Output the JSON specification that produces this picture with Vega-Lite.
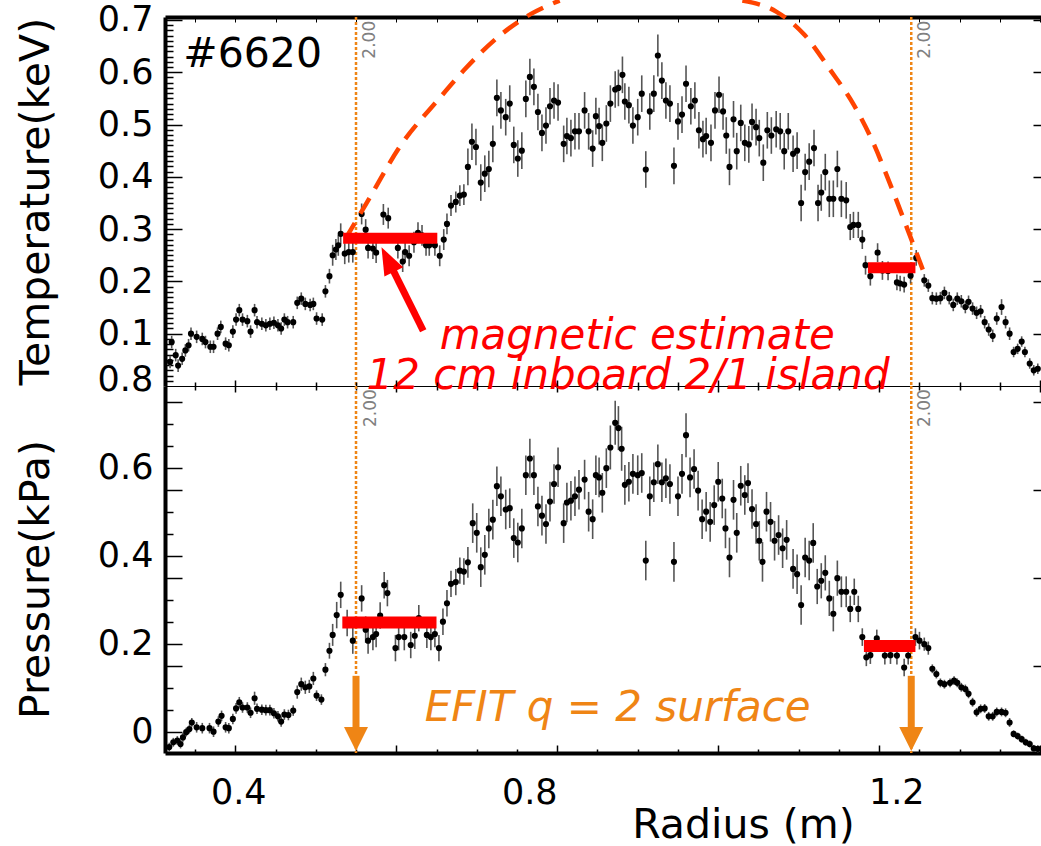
{
"$schema": "https://vega.github.io/schema/vega-lite/v6.json",
"autosize": {"type": "pad"},
"padding": {"left": 15, "top": -9, "right": 0, "bottom": 0},
"background": "white",
"spacing": 0,
"bounds": "flush",
"config": {
  "view": {"stroke": null},
  "font": "DejaVu Sans",
  "axis": {"labelFont": "DejaVu Sans", "titleFont": "DejaVu Sans", "labelColor": "black", "titleColor": "black", "domainColor": "black", "tickColor": "black", "grid": false, "titleFontWeight": "normal"}
},
"datasets": {
  "T": [
{"x":0.321,"y":0.084,"e":0.012},{"x":0.319,"y":0.046,"e":0.012},{"x":0.326,"y":0.059,"e":0.012},{"x":0.329,"y":0.039,"e":0.012},{"x":0.334,"y":0.052,"e":0.012},{"x":0.338,"y":0.068,"e":0.012},{"x":0.342,"y":0.078,"e":0.012},{"x":0.345,"y":0.100,"e":0.012},{"x":0.352,"y":0.094,"e":0.012},{"x":0.359,"y":0.090,"e":0.012},{"x":0.363,"y":0.084,"e":0.012},{"x":0.369,"y":0.075,"e":0.012},{"x":0.373,"y":0.075,"e":0.012},{"x":0.378,"y":0.100,"e":0.012},{"x":0.382,"y":0.113,"e":0.012},{"x":0.388,"y":0.081,"e":0.012},{"x":0.392,"y":0.078,"e":0.012},{"x":0.397,"y":0.104,"e":0.012},{"x":0.401,"y":0.127,"e":0.012},{"x":0.405,"y":0.145,"e":0.012},{"x":0.409,"y":0.127,"e":0.012},{"x":0.415,"y":0.124,"e":0.012},{"x":0.419,"y":0.104,"e":0.012},{"x":0.424,"y":0.145,"e":0.012},{"x":0.427,"y":0.122,"e":0.012},{"x":0.433,"y":0.119,"e":0.012},{"x":0.438,"y":0.116,"e":0.012},{"x":0.443,"y":0.119,"e":0.012},{"x":0.448,"y":0.121,"e":0.012},{"x":0.453,"y":0.116,"e":0.012},{"x":0.457,"y":0.110,"e":0.012},{"x":0.461,"y":0.127,"e":0.012},{"x":0.465,"y":0.122,"e":0.012},{"x":0.472,"y":0.122,"e":0.012},{"x":0.477,"y":0.159,"e":0.012},{"x":0.482,"y":0.167,"e":0.012},{"x":0.487,"y":0.157,"e":0.012},{"x":0.493,"y":0.155,"e":0.012},{"x":0.497,"y":0.157,"e":0.012},{"x":0.501,"y":0.129,"e":0.012},{"x":0.508,"y":0.127,"e":0.012},{"x":0.512,"y":0.181,"e":0.012},{"x":0.517,"y":0.210,"e":0.014},
{"x":0.521,"y":0.250,"e":0.02},{"x":0.525,"y":0.261,"e":0.02},{"x":0.528,"y":0.269,"e":0.02},{"x":0.531,"y":0.291,"e":0.02},{"x":0.536,"y":0.253,"e":0.02},{"x":0.541,"y":0.256,"e":0.02},{"x":0.546,"y":0.256,"e":0.02},{"x":0.557,"y":0.329,"e":0.02},{"x":0.562,"y":0.299,"e":0.02},{"x":0.565,"y":0.264,"e":0.02},{"x":0.571,"y":0.263,"e":0.02},{"x":0.575,"y":0.255,"e":0.02},{"x":0.584,"y":0.328,"e":0.02},{"x":0.590,"y":0.321,"e":0.02},{"x":0.602,"y":0.264,"e":0.02},{"x":0.608,"y":0.238,"e":0.02},{"x":0.611,"y":0.256,"e":0.02},{"x":0.616,"y":0.249,"e":0.02},{"x":0.622,"y":0.275,"e":0.02},{"x":0.627,"y":0.293,"e":0.02},{"x":0.632,"y":0.288,"e":0.02},{"x":0.637,"y":0.269,"e":0.02},{"x":0.641,"y":0.269,"e":0.02},{"x":0.648,"y":0.269,"e":0.02},{"x":0.654,"y":0.249,"e":0.02},{"x":0.659,"y":0.280,"e":0.02},{"x":0.663,"y":0.310,"e":0.02},{"x":0.668,"y":0.345,"e":0.02},{"x":0.674,"y":0.352,"e":0.02},{"x":0.679,"y":0.364,"e":0.02},{"x":0.684,"y":0.366,"e":0.02},
{"x":0.689,"y":0.419,"e":0.035},{"x":0.694,"y":0.467,"e":0.035},{"x":0.699,"y":0.457,"e":0.035},{"x":0.705,"y":0.389,"e":0.035},{"x":0.710,"y":0.406,"e":0.035},{"x":0.715,"y":0.415,"e":0.035},{"x":0.720,"y":0.463,"e":0.035},{"x":0.725,"y":0.551,"e":0.035},{"x":0.730,"y":0.527,"e":0.035},{"x":0.736,"y":0.514,"e":0.035},{"x":0.741,"y":0.540,"e":0.035},{"x":0.746,"y":0.461,"e":0.035},{"x":0.751,"y":0.435,"e":0.035},{"x":0.756,"y":0.450,"e":0.035},{"x":0.761,"y":0.549,"e":0.035},{"x":0.766,"y":0.591,"e":0.035},{"x":0.771,"y":0.572,"e":0.035},{"x":0.776,"y":0.524,"e":0.035},{"x":0.781,"y":0.484,"e":0.035},{"x":0.786,"y":0.498,"e":0.035},{"x":0.791,"y":0.535,"e":0.035},{"x":0.796,"y":0.546,"e":0.035},{"x":0.801,"y":0.542,"e":0.035},{"x":0.808,"y":0.463,"e":0.035},{"x":0.812,"y":0.478,"e":0.035},{"x":0.817,"y":0.474,"e":0.035},{"x":0.822,"y":0.487,"e":0.035},{"x":0.827,"y":0.487,"e":0.035},{"x":0.834,"y":0.527,"e":0.035},{"x":0.839,"y":0.487,"e":0.035},{"x":0.844,"y":0.454,"e":0.035},{"x":0.848,"y":0.516,"e":0.035},{"x":0.852,"y":0.497,"e":0.035},{"x":0.856,"y":0.465,"e":0.035},{"x":0.861,"y":0.502,"e":0.035},{"x":0.866,"y":0.540,"e":0.035},{"x":0.872,"y":0.567,"e":0.035},{"x":0.876,"y":0.570,"e":0.035},{"x":0.881,"y":0.595,"e":0.035},{"x":0.884,"y":0.544,"e":0.035},{"x":0.889,"y":0.537,"e":0.035},{"x":0.894,"y":0.498,"e":0.035},{"x":0.900,"y":0.514,"e":0.035},{"x":0.905,"y":0.559,"e":0.035},{"x":0.910,"y":0.414,"e":0.035},{"x":0.915,"y":0.525,"e":0.035},{"x":0.920,"y":0.559,"e":0.035},{"x":0.925,"y":0.632,"e":0.04},{"x":0.930,"y":0.584,"e":0.035},{"x":0.935,"y":0.546,"e":0.035},{"x":0.940,"y":0.540,"e":0.035},{"x":0.945,"y":0.421,"e":0.035},{"x":0.950,"y":0.506,"e":0.035},{"x":0.955,"y":0.519,"e":0.035},{"x":0.960,"y":0.578,"e":0.035},{"x":0.966,"y":0.535,"e":0.035},{"x":0.971,"y":0.546,"e":0.035},{"x":0.976,"y":0.489,"e":0.035},{"x":0.981,"y":0.472,"e":0.035},{"x":0.985,"y":0.478,"e":0.035},{"x":0.991,"y":0.465,"e":0.035},{"x":0.996,"y":0.527,"e":0.035},{"x":1.001,"y":0.557,"e":0.035},{"x":1.006,"y":0.525,"e":0.035},{"x":1.010,"y":0.479,"e":0.035},{"x":1.014,"y":0.419,"e":0.035},{"x":1.019,"y":0.510,"e":0.035},{"x":1.023,"y":0.449,"e":0.035},{"x":1.028,"y":0.503,"e":0.035},{"x":1.033,"y":0.465,"e":0.035},{"x":1.038,"y":0.462,"e":0.035},{"x":1.042,"y":0.505,"e":0.035},{"x":1.047,"y":0.495,"e":0.035},{"x":1.051,"y":0.474,"e":0.035},{"x":1.056,"y":0.427,"e":0.035},{"x":1.061,"y":0.489,"e":0.035},{"x":1.066,"y":0.479,"e":0.035},{"x":1.072,"y":0.491,"e":0.035},{"x":1.077,"y":0.487,"e":0.035},{"x":1.082,"y":0.449,"e":0.035},{"x":1.087,"y":0.487,"e":0.035},{"x":1.093,"y":0.444,"e":0.035},{"x":1.098,"y":0.450,"e":0.035},{"x":1.103,"y":0.350,"e":0.035},{"x":1.108,"y":0.409,"e":0.035},{"x":1.113,"y":0.429,"e":0.035},{"x":1.119,"y":0.455,"e":0.035},{"x":1.124,"y":0.350,"e":0.035},{"x":1.128,"y":0.370,"e":0.035},{"x":1.133,"y":0.409,"e":0.035},{"x":1.138,"y":0.358,"e":0.035},{"x":1.143,"y":0.358,"e":0.035},{"x":1.148,"y":0.415,"e":0.035},{"x":1.153,"y":0.358,"e":0.035},{"x":1.159,"y":0.355,"e":0.035},{"x":1.164,"y":0.304,"e":0.025},{"x":1.168,"y":0.308,"e":0.025},{"x":1.174,"y":0.308,"e":0.025},
{"x":1.179,"y":0.280,"e":0.018},{"x":1.183,"y":0.231,"e":0.018},{"x":1.189,"y":0.210,"e":0.018},{"x":1.198,"y":0.255,"e":0.018},{"x":1.204,"y":0.221,"e":0.018},{"x":1.211,"y":0.220,"e":0.018},{"x":1.222,"y":0.198,"e":0.015},{"x":1.226,"y":0.196,"e":0.015},{"x":1.231,"y":0.194,"e":0.015},{"x":1.239,"y":0.211,"e":0.015},{"x":1.246,"y":0.245,"e":0.015},{"x":1.256,"y":0.202,"e":0.012},{"x":1.261,"y":0.192,"e":0.012},
{"x":1.266,"y":0.168,"e":0.012},{"x":1.271,"y":0.167,"e":0.012},{"x":1.276,"y":0.168,"e":0.012},{"x":1.281,"y":0.178,"e":0.012},{"x":1.287,"y":0.168,"e":0.012},{"x":1.292,"y":0.155,"e":0.012},{"x":1.297,"y":0.167,"e":0.012},{"x":1.302,"y":0.162,"e":0.012},{"x":1.307,"y":0.151,"e":0.012},{"x":1.311,"y":0.161,"e":0.012},{"x":1.316,"y":0.148,"e":0.012},{"x":1.321,"y":0.140,"e":0.012},{"x":1.326,"y":0.143,"e":0.012},{"x":1.331,"y":0.122,"e":0.012},{"x":1.336,"y":0.108,"e":0.012},{"x":1.341,"y":0.096,"e":0.012},{"x":1.346,"y":0.129,"e":0.012},{"x":1.352,"y":0.151,"e":0.015},{"x":1.357,"y":0.122,"e":0.012},{"x":1.362,"y":0.100,"e":0.012},{"x":1.367,"y":0.065,"e":0.01},{"x":1.372,"y":0.071,"e":0.01},{"x":1.377,"y":0.085,"e":0.01},{"x":1.381,"y":0.065,"e":0.01},{"x":1.387,"y":0.043,"e":0.01},{"x":1.392,"y":0.030,"e":0.01},{"x":1.397,"y":0.033,"e":0.01}
  ],
  "P": [
{"x":0.318,"y":-0.035,"e":0.01},{"x":0.323,"y":-0.024,"e":0.01},{"x":0.328,"y":-0.020,"e":0.01},{"x":0.332,"y":-0.028,"e":0.01},{"x":0.335,"y":-0.013,"e":0.01},{"x":0.339,"y":-0.001,"e":0.01},{"x":0.343,"y":0.006,"e":0.01},{"x":0.346,"y":0.021,"e":0.01},{"x":0.352,"y":0.010,"e":0.012},{"x":0.359,"y":0.008,"e":0.012},{"x":0.368,"y":0.008,"e":0.012},{"x":0.373,"y":0.000,"e":0.012},{"x":0.379,"y":0.023,"e":0.012},{"x":0.383,"y":0.036,"e":0.012},{"x":0.388,"y":0.010,"e":0.012},{"x":0.392,"y":0.008,"e":0.012},{"x":0.397,"y":0.029,"e":0.012},{"x":0.401,"y":0.053,"e":0.012},{"x":0.405,"y":0.067,"e":0.012},{"x":0.409,"y":0.055,"e":0.012},{"x":0.415,"y":0.055,"e":0.012},{"x":0.419,"y":0.043,"e":0.012},{"x":0.424,"y":0.076,"e":0.015},{"x":0.427,"y":0.052,"e":0.012},{"x":0.433,"y":0.050,"e":0.012},{"x":0.438,"y":0.049,"e":0.012},{"x":0.443,"y":0.049,"e":0.012},{"x":0.448,"y":0.042,"e":0.012},{"x":0.453,"y":0.035,"e":0.012},{"x":0.457,"y":0.023,"e":0.012},{"x":0.461,"y":0.039,"e":0.012},{"x":0.466,"y":0.038,"e":0.012},{"x":0.472,"y":0.048,"e":0.012},{"x":0.477,"y":0.090,"e":0.015},{"x":0.482,"y":0.108,"e":0.015},{"x":0.487,"y":0.101,"e":0.015},{"x":0.492,"y":0.103,"e":0.015},{"x":0.497,"y":0.121,"e":0.015},{"x":0.501,"y":0.082,"e":0.012},{"x":0.507,"y":0.073,"e":0.012},{"x":0.512,"y":0.141,"e":0.015},{"x":0.517,"y":0.184,"e":0.018},
{"x":0.521,"y":0.220,"e":0.025},{"x":0.526,"y":0.265,"e":0.03},{"x":0.531,"y":0.311,"e":0.03},{"x":0.539,"y":0.247,"e":0.03},{"x":0.546,"y":0.207,"e":0.03},{"x":0.557,"y":0.303,"e":0.03},{"x":0.562,"y":0.232,"e":0.03},{"x":0.565,"y":0.207,"e":0.03},{"x":0.571,"y":0.215,"e":0.03},{"x":0.575,"y":0.222,"e":0.03},{"x":0.580,"y":0.264,"e":0.03},{"x":0.585,"y":0.333,"e":0.03},{"x":0.589,"y":0.315,"e":0.03},{"x":0.599,"y":0.190,"e":0.03},{"x":0.603,"y":0.215,"e":0.03},{"x":0.610,"y":0.215,"e":0.03},{"x":0.618,"y":0.197,"e":0.03},{"x":0.623,"y":0.218,"e":0.03},{"x":0.628,"y":0.258,"e":0.03},{"x":0.638,"y":0.220,"e":0.03},{"x":0.643,"y":0.215,"e":0.03},{"x":0.648,"y":0.222,"e":0.03},{"x":0.653,"y":0.190,"e":0.03},{"x":0.658,"y":0.250,"e":0.03},{"x":0.663,"y":0.292,"e":0.03},{"x":0.668,"y":0.336,"e":0.03},{"x":0.674,"y":0.340,"e":0.03},{"x":0.679,"y":0.366,"e":0.03},{"x":0.684,"y":0.364,"e":0.03},{"x":0.689,"y":0.385,"e":0.035},
{"x":0.695,"y":0.474,"e":0.045},{"x":0.700,"y":0.452,"e":0.045},{"x":0.705,"y":0.374,"e":0.045},{"x":0.710,"y":0.402,"e":0.045},{"x":0.715,"y":0.462,"e":0.045},{"x":0.720,"y":0.482,"e":0.045},{"x":0.725,"y":0.558,"e":0.045},{"x":0.730,"y":0.535,"e":0.045},{"x":0.736,"y":0.505,"e":0.045},{"x":0.741,"y":0.508,"e":0.045},{"x":0.746,"y":0.440,"e":0.045},{"x":0.751,"y":0.430,"e":0.045},{"x":0.756,"y":0.462,"e":0.045},{"x":0.761,"y":0.583,"e":0.045},{"x":0.766,"y":0.621,"e":0.045},{"x":0.771,"y":0.583,"e":0.045},{"x":0.776,"y":0.512,"e":0.045},{"x":0.781,"y":0.491,"e":0.045},{"x":0.786,"y":0.472,"e":0.045},{"x":0.791,"y":0.523,"e":0.045},{"x":0.796,"y":0.563,"e":0.045},{"x":0.801,"y":0.601,"e":0.045},{"x":0.808,"y":0.474,"e":0.045},{"x":0.812,"y":0.521,"e":0.045},{"x":0.817,"y":0.525,"e":0.045},{"x":0.822,"y":0.535,"e":0.045},{"x":0.827,"y":0.550,"e":0.045},{"x":0.834,"y":0.573,"e":0.045},{"x":0.839,"y":0.500,"e":0.045},{"x":0.844,"y":0.483,"e":0.045},{"x":0.848,"y":0.583,"e":0.045},{"x":0.852,"y":0.578,"e":0.045},{"x":0.856,"y":0.543,"e":0.045},{"x":0.861,"y":0.599,"e":0.045},{"x":0.866,"y":0.646,"e":0.05},{"x":0.872,"y":0.702,"e":0.05},{"x":0.876,"y":0.690,"e":0.05},{"x":0.880,"y":0.643,"e":0.05},{"x":0.884,"y":0.561,"e":0.045},{"x":0.889,"y":0.568,"e":0.045},{"x":0.894,"y":0.586,"e":0.045},{"x":0.900,"y":0.583,"e":0.045},{"x":0.905,"y":0.588,"e":0.045},{"x":0.910,"y":0.389,"e":0.045},{"x":0.915,"y":0.535,"e":0.045},{"x":0.920,"y":0.567,"e":0.045},{"x":0.925,"y":0.608,"e":0.045},{"x":0.930,"y":0.567,"e":0.045},{"x":0.935,"y":0.576,"e":0.045},{"x":0.940,"y":0.563,"e":0.045},{"x":0.945,"y":0.386,"e":0.045},{"x":0.950,"y":0.535,"e":0.045},{"x":0.955,"y":0.586,"e":0.045},{"x":0.960,"y":0.674,"e":0.05},{"x":0.965,"y":0.578,"e":0.045},{"x":0.970,"y":0.597,"e":0.045},{"x":0.975,"y":0.548,"e":0.045},{"x":0.980,"y":0.483,"e":0.045},{"x":0.985,"y":0.500,"e":0.045},{"x":0.990,"y":0.477,"e":0.045},{"x":0.995,"y":0.515,"e":0.045},{"x":1.000,"y":0.568,"e":0.045},{"x":1.005,"y":0.530,"e":0.045},{"x":1.009,"y":0.462,"e":0.045},{"x":1.014,"y":0.396,"e":0.045},{"x":1.019,"y":0.527,"e":0.045},{"x":1.023,"y":0.452,"e":0.045},{"x":1.028,"y":0.559,"e":0.045},{"x":1.033,"y":0.538,"e":0.045},{"x":1.037,"y":0.565,"e":0.045},{"x":1.042,"y":0.506,"e":0.045},{"x":1.047,"y":0.472,"e":0.045},{"x":1.051,"y":0.434,"e":0.045},{"x":1.055,"y":0.386,"e":0.045},{"x":1.060,"y":0.500,"e":0.045},{"x":1.065,"y":0.477,"e":0.045},{"x":1.070,"y":0.434,"e":0.045},{"x":1.075,"y":0.447,"e":0.045},{"x":1.080,"y":0.417,"e":0.045},{"x":1.085,"y":0.436,"e":0.045},{"x":1.093,"y":0.370,"e":0.045},{"x":1.098,"y":0.358,"e":0.045},{"x":1.103,"y":0.288,"e":0.045},{"x":1.108,"y":0.396,"e":0.045},{"x":1.113,"y":0.389,"e":0.045},{"x":1.118,"y":0.429,"e":0.045},{"x":1.123,"y":0.330,"e":0.04},{"x":1.128,"y":0.343,"e":0.04},{"x":1.133,"y":0.361,"e":0.04},{"x":1.138,"y":0.303,"e":0.04},{"x":1.143,"y":0.268,"e":0.04},{"x":1.148,"y":0.349,"e":0.04},{"x":1.153,"y":0.318,"e":0.035},{"x":1.159,"y":0.318,"e":0.035},{"x":1.164,"y":0.279,"e":0.03},{"x":1.169,"y":0.318,"e":0.03},{"x":1.174,"y":0.279,"e":0.03},
{"x":1.179,"y":0.215,"e":0.02},{"x":1.184,"y":0.169,"e":0.02},{"x":1.189,"y":0.174,"e":0.02},{"x":1.197,"y":0.212,"e":0.02},{"x":1.207,"y":0.173,"e":0.02},{"x":1.214,"y":0.174,"e":0.02},{"x":1.222,"y":0.173,"e":0.02},{"x":1.231,"y":0.146,"e":0.02},{"x":1.236,"y":0.173,"e":0.02},{"x":1.245,"y":0.215,"e":0.02},{"x":1.250,"y":0.207,"e":0.02},{"x":1.256,"y":0.199,"e":0.015},{"x":1.261,"y":0.190,"e":0.015},
{"x":1.266,"y":0.143,"e":0.01},{"x":1.271,"y":0.131,"e":0.01},{"x":1.276,"y":0.111,"e":0.01},{"x":1.281,"y":0.108,"e":0.01},{"x":1.288,"y":0.111,"e":0.01},{"x":1.293,"y":0.116,"e":0.01},{"x":1.297,"y":0.111,"e":0.01},{"x":1.302,"y":0.101,"e":0.01},{"x":1.307,"y":0.097,"e":0.01},{"x":1.311,"y":0.086,"e":0.01},{"x":1.316,"y":0.067,"e":0.01},{"x":1.321,"y":0.044,"e":0.01},{"x":1.326,"y":0.052,"e":0.01},{"x":1.331,"y":0.053,"e":0.01},{"x":1.336,"y":0.035,"e":0.01},{"x":1.341,"y":0.035,"e":0.01},{"x":1.346,"y":0.045,"e":0.01},{"x":1.352,"y":0.045,"e":0.01},{"x":1.357,"y":0.043,"e":0.01},{"x":1.362,"y":0.021,"e":0.01},{"x":1.367,"y":-0.005,"e":0.008},{"x":1.372,"y":-0.010,"e":0.008},{"x":1.377,"y":-0.017,"e":0.008},{"x":1.382,"y":-0.024,"e":0.008},{"x":1.387,"y":-0.028,"e":0.008},{"x":1.392,"y":-0.038,"e":0.008},{"x":1.397,"y":-0.039,"e":0.008}
  ],
  "qlines": [{"x": 0.55}, {"x": 1.2398}]
},
"vconcat": [
{
  "width": 876,
  "height": 369,
  "resolve": {"axis": {"x": "independent", "y": "independent"}},
  "layer": [
    {
      "data": {"name": "qlines"},
      "mark": {"type": "rule", "color": "#ef8515", "strokeWidth": 2.5, "strokeDash": [3, 2]},
      "encoding": {
        "x": {"field": "x", "type": "quantitative", "scale": {"domain": [0.3127, 1.401], "nice": false, "zero": false},
          "axis": {"orient": "top", "values": [0.35,0.4,0.45,0.5,0.55,0.6,0.65,0.7,0.75,0.8,0.85,0.9,0.95,1,1.05,1.1,1.15,1.2,1.25,1.3,1.35,1.4], "labels": false, "domainWidth": 4, "tickSize": -5, "tickWidth": 1, "title": null}}
      }
    },
    {
      "data": {"name": "T"},
      "mark": {"type": "errorbar", "ticks": false, "color": "#555555", "thickness": 1.6},
      "encoding": {
        "x": {"field": "x", "type": "quantitative", "scale": {"domain": [0.3127, 1.401], "nice": false, "zero": false}, "axis": null},
        "y": {"field": "y", "type": "quantitative", "scale": {"domain": [0, 0.7056], "nice": false, "zero": false}, "axis": null},
        "yError": {"field": "e"}
      }
    },
    {
      "data": {"name": "T"},
      "mark": {"type": "point", "filled": true, "shape": "circle", "size": 38, "color": "black", "opacity": 1},
      "encoding": {
        "x": {"field": "x", "type": "quantitative", "scale": {"domain": [0.3127, 1.401], "nice": false, "zero": false},
          "axis": {"orient": "bottom", "values": [0.35,0.4,0.45,0.5,0.55,0.6,0.65,0.7,0.75,0.8,0.85,0.9,0.95,1,1.05,1.1,1.15,1.2,1.25,1.3,1.35,1.4], "labels": false, "domainWidth": 1, "tickSize": {"condition": {"test": "indexof([0.4,0.6,0.8,1,1.2,1.4], datum.value) >= 0", "value": 6}, "value": 4}, "tickWidth": 1.5, "title": null}},
        "y": {"field": "y", "type": "quantitative", "scale": {"domain": [0, 0.7056], "nice": false, "zero": false},
          "axis": {"orient": "left", "values": [0.01,0.02,0.03,0.04,0.05,0.06,0.07,0.08,0.09,0.1,0.11,0.12,0.13,0.14,0.15,0.16,0.17,0.18,0.19,0.2,0.21,0.22,0.23,0.24,0.25,0.26,0.27,0.28,0.29,0.3,0.31,0.32,0.33,0.34,0.35,0.36,0.37,0.38,0.39,0.4,0.41,0.42,0.43,0.44,0.45,0.46,0.47,0.48,0.49,0.5,0.51,0.52,0.53,0.54,0.55,0.56,0.57,0.58,0.59,0.6,0.61,0.62,0.63,0.64,0.65,0.66,0.67,0.68,0.69,0.7],
            "tickSize": {"condition": {"test": "indexof([0.1,0.2,0.3,0.4,0.5,0.6,0.7], datum.value) >= 0", "value": -17}, "value": -8},
            "tickWidth": 1.5, "domainWidth": 4,
            "labelExpr": "indexof([0.1,0.2,0.3,0.4,0.5,0.6,0.7], datum.value) >= 0 ? format(datum.value, '.1f') : ''",
            "labelFontSize": 35, "labelPadding": 29, "labelOverlap": false, "labelFlush": false, "labelBound": false,
            "title": "Temperature(keV)", "titleFontSize": 41, "titleX": -117, "titleY": 184, "titleAngle": 270, "titleBaseline": "alphabetic", "titleAlign": "center"}}
      }
    },
    {
      "data": {"values": [
        {"part": "a", "x": 0.537, "y": 0.282}, {"part": "a", "x": 0.564, "y": 0.352}, {"part": "a", "x": 0.605, "y": 0.459}, {"part": "a", "x": 0.653, "y": 0.549}, {"part": "a", "x": 0.686, "y": 0.607}, {"part": "a", "x": 0.727, "y": 0.668}, {"part": "a", "x": 0.768, "y": 0.712}, {"part": "a", "x": 0.803, "y": 0.737},
        {"part": "b", "x": 1.030, "y": 0.737}, {"part": "b", "x": 1.072, "y": 0.716}, {"part": "b", "x": 1.108, "y": 0.670}, {"part": "b", "x": 1.138, "y": 0.607}, {"part": "b", "x": 1.169, "y": 0.536}, {"part": "b", "x": 1.194, "y": 0.460}, {"part": "b", "x": 1.211, "y": 0.396}, {"part": "b", "x": 1.241, "y": 0.276}, {"part": "b", "x": 1.255, "y": 0.219}
      ]},
      "mark": {"type": "line", "color": "#ff4400", "strokeWidth": 4.5, "strokeDash": [18, 11], "interpolate": "monotone"},
      "encoding": {
        "x": {"field": "x", "type": "quantitative", "scale": {"domain": [0.3127, 1.401], "nice": false, "zero": false}, "axis": null},
        "y": {"field": "y", "type": "quantitative", "scale": {"domain": [0, 0.7056], "nice": false, "zero": false},
          "axis": {"orient": "right", "values": [0.1,0.2,0.3,0.4,0.5,0.6,0.7], "labels": false, "domainDash": [2, 2], "domainWidth": 1, "tickSize": -8, "tickWidth": 1.5, "title": null}},
        "detail": {"field": "part"}
      }
    },
    {
      "data": {"values": [{"x": 0.534, "x2": 0.651, "y": 0.2826}, {"x": 1.186, "x2": 1.245, "y": 0.226}]},
      "mark": {"type": "rule", "color": "#ff0000", "strokeWidth": 11},
      "encoding": {
        "x": {"field": "x", "type": "quantitative", "scale": {"domain": [0.3127, 1.401], "nice": false, "zero": false}, "axis": null},
        "x2": {"field": "x2"},
        "y": {"field": "y", "type": "quantitative", "scale": {"domain": [0, 0.7056], "nice": false, "zero": false}, "axis": null}
      }
    },
    {
      "data": {"values": [{"x": 0.6335, "y": 0.1057, "x2": 0.592, "y2": 0.234}]},
      "mark": {"type": "rule", "color": "#ff0000", "strokeWidth": 7},
      "encoding": {
        "x": {"field": "x", "type": "quantitative", "scale": {"domain": [0.3127, 1.401], "nice": false, "zero": false}, "axis": null},
        "x2": {"field": "x2"},
        "y": {"field": "y", "type": "quantitative", "scale": {"domain": [0, 0.7056], "nice": false, "zero": false}, "axis": null},
        "y2": {"field": "y2"}
      }
    },
    {
      "data": {"values": [{"x": 0.590, "y": 0.2396}]},
      "mark": {"type": "point", "filled": true, "shape": "M0,-1.2L0.84,1L-0.84,1Z", "size": 625, "angle": 333.4, "color": "#ff0000", "opacity": 1},
      "encoding": {
        "x": {"field": "x", "type": "quantitative", "scale": {"domain": [0.3127, 1.401], "nice": false, "zero": false}, "axis": null},
        "y": {"field": "y", "type": "quantitative", "scale": {"domain": [0, 0.7056], "nice": false, "zero": false}, "axis": null}
      }
    },
    {
      "data": {"values": [{"x": 0.3354, "y": 0.61, "label": "#6620"}]},
      "mark": {"type": "text", "fontSize": 41, "align": "left", "baseline": "alphabetic", "color": "black", "font": "DejaVu Sans"},
      "encoding": {
        "x": {"field": "x", "type": "quantitative", "scale": {"domain": [0.3127, 1.401], "nice": false, "zero": false}, "axis": null},
        "y": {"field": "y", "type": "quantitative", "scale": {"domain": [0, 0.7056], "nice": false, "zero": false}, "axis": null},
        "text": {"field": "label"}
      }
    },
    {
      "data": {"values": [{"x": 0.8994, "y": 0.0713, "label": "magnetic estimate"}, {"x": 0.888, "y": -0.005, "label": "12 cm inboard 2/1 island"}]},
      "mark": {"type": "text", "fontSize": 42, "fontStyle": "italic", "align": "center", "baseline": "alphabetic", "color": "#ff0000", "font": "DejaVu Sans"},
      "encoding": {
        "x": {"field": "x", "type": "quantitative", "scale": {"domain": [0.3127, 1.401], "nice": false, "zero": false}, "axis": null},
        "y": {"field": "y", "type": "quantitative", "scale": {"domain": [0, 0.7056], "nice": false, "zero": false}, "axis": null},
        "text": {"field": "label"}
      }
    },
    {
      "data": {"values": [{"x": 0.574, "y": 0.626, "label": "2.00"}, {"x": 1.2634, "y": 0.626, "label": "2.00"}]},
      "mark": {"type": "text", "fontSize": 17, "angle": 270, "align": "left", "baseline": "alphabetic", "color": "#808080", "font": "DejaVu Sans"},
      "encoding": {
        "x": {"field": "x", "type": "quantitative", "scale": {"domain": [0.3127, 1.401], "nice": false, "zero": false}, "axis": null},
        "y": {"field": "y", "type": "quantitative", "scale": {"domain": [0, 0.7056], "nice": false, "zero": false}, "axis": null},
        "text": {"field": "label"}
      }
    }
  ]
},
{
  "width": 876,
  "height": 367,
  "resolve": {"axis": {"x": "independent", "y": "independent"}},
  "layer": [
    {
      "data": {"name": "qlines"},
      "mark": {"type": "rule", "color": "#ef8515", "strokeWidth": 2.5, "strokeDash": [3, 2]},
      "encoding": {
        "x": {"field": "x", "type": "quantitative", "scale": {"domain": [0.3127, 1.401], "nice": false, "zero": false},
          "axis": {"orient": "top", "values": [0.35,0.4,0.45,0.5,0.55,0.6,0.65,0.7,0.75,0.8,0.85,0.9,0.95,1,1.05,1.1,1.15,1.2,1.25,1.3,1.35,1.4], "labels": false, "domain": false, "tickSize": {"condition": {"test": "indexof([0.4,0.6,0.8,1,1.2,1.4], datum.value) >= 0", "value": 6}, "value": 4}, "tickWidth": 1.5, "title": null}}
      }
    },
    {
      "data": {"name": "P"},
      "mark": {"type": "errorbar", "ticks": false, "color": "#555555", "thickness": 1.6},
      "encoding": {
        "x": {"field": "x", "type": "quantitative", "scale": {"domain": [0.3127, 1.401], "nice": false, "zero": false}, "axis": null},
        "y": {"field": "y", "type": "quantitative", "scale": {"domain": [-0.0484, 0.7857], "nice": false, "zero": false}, "axis": null},
        "yError": {"field": "e"}
      }
    },
    {
      "data": {"name": "P"},
      "mark": {"type": "point", "filled": true, "shape": "circle", "size": 38, "color": "black", "opacity": 1},
      "encoding": {
        "x": {"field": "x", "type": "quantitative", "scale": {"domain": [0.3127, 1.401], "nice": false, "zero": false},
          "axis": {"orient": "bottom", "values": [0.35,0.4,0.45,0.5,0.55,0.6,0.65,0.7,0.75,0.8,0.85,0.9,0.95,1,1.05,1.1,1.15,1.2,1.25,1.3,1.35,1.4],
            "tickSize": {"condition": {"test": "indexof([0.4,0.6,0.8,1,1.2,1.4], datum.value) >= 0", "value": -8}, "value": -4},
            "tickWidth": 1.5, "domainWidth": 4,
            "labelExpr": "indexof([0.4,0.8,1.2], datum.value) >= 0 ? format(datum.value, '.1f') : ''",
            "labelOffset": {"condition": [{"test": "datum.value == 0.8", "value": -28}, {"test": "datum.value == 1.2", "value": 17}], "value": 3},
            "labelFontSize": 35, "labelPadding": 30, "labelOverlap": false, "labelFlush": false, "labelBound": false, "labelBaseline": "top",
            "title": "Radius (m)", "titleFontSize": 41, "titleX": 578, "titleY": 84, "titleBaseline": "alphabetic", "titleAlign": "center"}},
        "y": {"field": "y", "type": "quantitative", "scale": {"domain": [-0.0484, 0.7857], "nice": false, "zero": false},
          "axis": {"orient": "left", "values": [0,0.05,0.1,0.15,0.2,0.25,0.3,0.35,0.4,0.45,0.5,0.55,0.6,0.65,0.7,0.75],
            "tickSize": {"condition": {"test": "indexof([0,0.15,0.2,0.35,0.4,0.55,0.6,0.75], datum.value) >= 0", "value": -17}, "value": -8},
            "tickWidth": 1.5, "domainWidth": 4,
            "labelExpr": "indexof([0,0.2,0.4,0.6], datum.value) >= 0 ? (datum.value == 0 ? '0' : format(datum.value, '.1f')) : ''",
            "labelFontSize": 35, "labelPadding": 29, "labelOverlap": false, "labelFlush": false, "labelBound": false,
            "title": "Pressure(kPa)", "titleFontSize": 41, "titleX": -117, "titleY": 193, "titleAngle": 270, "titleBaseline": "alphabetic", "titleAlign": "center"}}
      }
    },
    {
      "data": {"values": [{"x": 0.533, "x2": 0.650, "y": 0.248}, {"x": 1.181, "x2": 1.245, "y": 0.195}]},
      "mark": {"type": "rule", "color": "#ff0000", "strokeWidth": 12},
      "encoding": {
        "x": {"field": "x", "type": "quantitative", "scale": {"domain": [0.3127, 1.401], "nice": false, "zero": false}, "axis": null},
        "x2": {"field": "x2"},
        "y": {"field": "y", "type": "quantitative", "scale": {"domain": [-0.0484, 0.7857], "nice": false, "zero": false},
          "axis": {"orient": "right", "values": [0.15,0.35,0.55,0.75], "labels": false, "domainDash": [2, 2], "domainWidth": 1, "tickSize": -8, "tickWidth": 1.5, "title": null}}
      }
    },
    {
      "data": {"values": [{"x": 0.55, "y": 0.127, "y2": 0.005}, {"x": 1.2398, "y": 0.127, "y2": 0.005}]},
      "mark": {"type": "rule", "color": "#ef8515", "strokeWidth": 7},
      "encoding": {
        "x": {"field": "x", "type": "quantitative", "scale": {"domain": [0.3127, 1.401], "nice": false, "zero": false}, "axis": null},
        "y": {"field": "y", "type": "quantitative", "scale": {"domain": [-0.0484, 0.7857], "nice": false, "zero": false}, "axis": null},
        "y2": {"field": "y2"}
      }
    },
    {
      "data": {"values": [{"x": 0.55, "y": -0.0166}, {"x": 1.2398, "y": -0.0166}]},
      "mark": {"type": "point", "filled": true, "shape": "M-1,-1L1,-1L0,1Z", "size": 576, "color": "#ef8515", "opacity": 1},
      "encoding": {
        "x": {"field": "x", "type": "quantitative", "scale": {"domain": [0.3127, 1.401], "nice": false, "zero": false}, "axis": null},
        "y": {"field": "y", "type": "quantitative", "scale": {"domain": [-0.0484, 0.7857], "nice": false, "zero": false}, "axis": null}
      }
    },
    {
      "data": {"values": [{"x": 0.875, "y": 0.025, "label": "EFIT q = 2 surface"}]},
      "mark": {"type": "text", "fontSize": 42, "fontStyle": "italic", "align": "center", "baseline": "alphabetic", "color": "#ef8515", "font": "DejaVu Sans"},
      "encoding": {
        "x": {"field": "x", "type": "quantitative", "scale": {"domain": [0.3127, 1.401], "nice": false, "zero": false}, "axis": null},
        "y": {"field": "y", "type": "quantitative", "scale": {"domain": [-0.0484, 0.7857], "nice": false, "zero": false}, "axis": null},
        "text": {"field": "label"}
      }
    },
    {
      "data": {"values": [{"x": 0.5745, "y": 0.6925, "label": "2.00"}, {"x": 1.2634, "y": 0.6925, "label": "2.00"}]},
      "mark": {"type": "text", "fontSize": 17, "angle": 270, "align": "left", "baseline": "alphabetic", "color": "#808080", "font": "DejaVu Sans"},
      "encoding": {
        "x": {"field": "x", "type": "quantitative", "scale": {"domain": [0.3127, 1.401], "nice": false, "zero": false}, "axis": null},
        "y": {"field": "y", "type": "quantitative", "scale": {"domain": [-0.0484, 0.7857], "nice": false, "zero": false}, "axis": null},
        "text": {"field": "label"}
      }
    },
    {
      "data": {"values": [{"x": 0.2981, "y": 0.8, "label": "0.8"}]},
      "mark": {"type": "text", "fontSize": 35, "align": "right", "baseline": "middle", "color": "black", "font": "DejaVu Sans"},
      "encoding": {
        "x": {"field": "x", "type": "quantitative", "scale": {"domain": [0.3127, 1.401], "nice": false, "zero": false}, "axis": null},
        "y": {"field": "y", "type": "quantitative", "scale": {"domain": [-0.0484, 0.7857], "nice": false, "zero": false}, "axis": null},
        "text": {"field": "label"}
      }
    }
  ]
}
]
}
